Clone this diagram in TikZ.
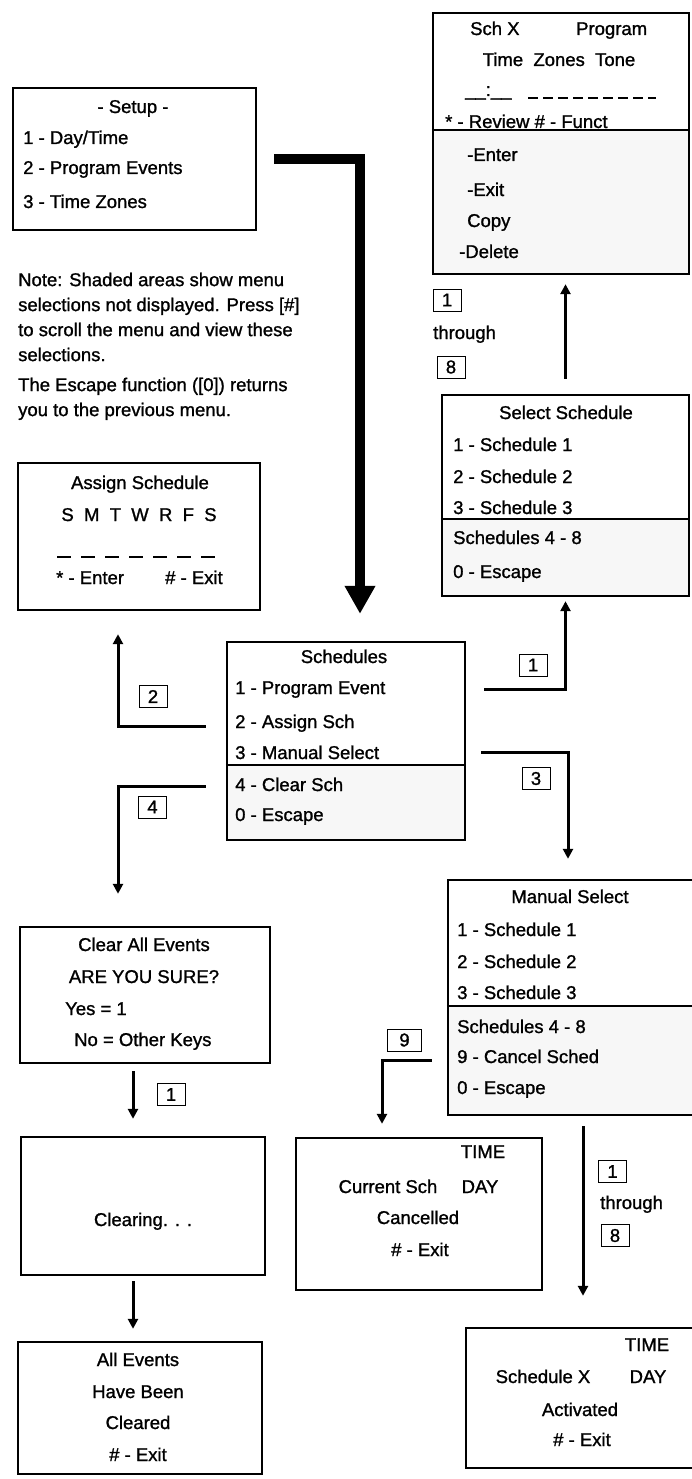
\documentclass[tikz,border=0pt]{standalone}
\usepackage{fontspec}
\setmainfont{Liberation Sans}[FakeBold=1.2]
\usetikzlibrary{arrows.meta}

\begin{document}
\begin{tikzpicture}[x=1pt,y=-1pt,
    every node/.style={font=\fontsize{18.5}{25}\selectfont},
    box/.style={draw,line width=2.4pt,inner sep=0pt},
    key/.style={draw,line width=0.9pt,minimum width=28pt,minimum height=22pt,inner sep=0pt},
    lft/.style={anchor=base west,inner sep=0pt},
    mid/.style={anchor=base,inner sep=0pt},
    arr/.style={line width=3pt,-{Triangle[width=10pt,length=10pt]}},
    big/.style={line width=10pt,-{Triangle[width=29pt,length=28pt]}},
    shade/.style={fill=black!3}]

        \useasboundingbox (0,0) rectangle (692,1479);

        \fill[shade] (433,130) rectangle (689,274);
        \fill[shade] (442,519) rectangle (689,596);
        \fill[shade] (227,765) rectangle (465,840);
        \fill[shade] (448,1006) rectangle (700,1115);

        \begin{scope}[every node/.append style={box}]
          \node[minimum width=256pt,minimum height=261pt] (schx)     at (561,143.5) {};
          \node[minimum width=247pt,minimum height=201pt] (selsch)   at (565.5,495.5) {};
          \node[minimum width=243pt,minimum height=142pt] (setup)    at (134.5,159) {};
          \node[minimum width=242pt,minimum height=147pt] (assign)   at (139,536.5) {};
          \node[minimum width=238pt,minimum height=198pt] (sched)    at (346,741) {};
          \node[minimum width=252pt,minimum height=235pt] (manual)   at (574,997.5) {};
          \node[minimum width=250pt,minimum height=136pt] (clear)    at (145,995) {};
          \node[minimum width=244pt,minimum height=138pt] (clearing) at (143,1206) {};
          \node[minimum width=244pt,minimum height=132pt] (allev)    at (140,1408) {};
          \node[minimum width=246pt,minimum height=152pt] (cursch)   at (419,1214) {};
          \node[minimum width=234pt,minimum height=140pt] (schedx)   at (583,1398) {};
        \end{scope}

        \begin{scope}[line width=2.4pt]
          \draw (schx.west |- 0,130) -- (schx.east |- 0,130);
          \draw (selsch.west |- 0,519) -- (selsch.east |- 0,519);
          \draw (sched.west |- 0,765) -- (sched.east |- 0,765);
          \draw (manual.west |- 0,1006) -- (manual.east |- 0,1006);
        \end{scope}

        \node[lft] (sx1) at (470,35)  {Sch X};
        \node[lft] (sx2) at (576,35)  {Program};
        \node[mid] (sx3) at (559,66)  {Time\ \ Zones\ \ Tone};
        \node[lft] (sx4) at (465,96)  {\_\_:\_\_};
        \draw[line width=1.2pt,dash pattern=on 10pt off 5pt] (528,98) -- (656,98);
        \node[lft] (sx5) at (445,128) {* - Review \# - Funct};
        \node[lft] (sx6) at (467,161) {-Enter};
        \node[lft] (sx7) at (467,196) {-Exit};
        \node[lft] (sx8) at (467,227) {Copy};
        \node[lft] (sx9) at (459,258) {-Delete};

        \node[mid] (ss0) at (566,419) {Select Schedule};
        \node[lft] (ss1) at (453,451) {1 - Schedule 1};
        \node[lft] (ss2) at (453,483) {2 - Schedule 2};
        \node[lft] (ss3) at (453,514) {3 - Schedule 3};
        \node[lft] (ss4) at (453,544) {Schedules 4 - 8};
        \node[lft] (ss5) at (453,578) {0 - Escape};

        \node[mid] (su0) at (133,113) {- Setup -};
        \node[lft] (su1) at (23,144)  {1 - Day/Time};
        \node[lft] (su2) at (23,174)  {2 - Program Events};
        \node[lft] (su3) at (23,208)  {3 - Time Zones};

        \node[anchor=north west,inner sep=0pt,align=left] (note1) at (18,272.5)
          {Note: Shaded areas show menu\\selections not displayed. Press [\#]\\to scroll the menu and view these\\selections.};
        \node[anchor=north west,inner sep=0pt,align=left] (note2) at (18,377.5)
          {The Escape function ([0]) returns\\you to the previous menu.};

        \node[mid] (as0) at (140,489) {Assign Schedule};
        \node[mid] (as1) at (139,521) {S\ \ M\ \ T\ \ W\ \ R\ \ F\ \ S};
        \draw[line width=1.2pt,dash pattern=on 14pt off 10pt] (57,557) -- (218,557);
        \node[lft] (as2) at (56,584)  {* - Enter};
        \node[lft] (as3) at (165,584) {\# - Exit};

        \node[mid] (s0) at (344,663) {Schedules};
        \node[lft] (s1) at (235,694) {1 - Program Event};
        \node[lft] (s2) at (235,728) {2 - Assign Sch};
        \node[lft] (s3) at (235,759) {3 - Manual Select};
        \node[lft] (s4) at (235,791) {4 - Clear Sch};
        \node[lft] (s5) at (235,821) {0 - Escape};

        \node[mid] (m0) at (570,903)  {Manual Select};
        \node[lft] (m1) at (457,936)  {1 - Schedule 1};
        \node[lft] (m2) at (457,968)  {2 - Schedule 2};
        \node[lft] (m3) at (457,999)  {3 - Schedule 3};
        \node[lft] (m4) at (457,1033) {Schedules 4 - 8};
        \node[lft] (m9) at (457,1063) {9 - Cancel Sched};
        \node[lft] (m5) at (457,1094) {0 - Escape};

        \node[mid] (ce0) at (144,951) {Clear All Events};
        \node[mid] (ce1) at (144,983) {ARE YOU SURE?};
        \node[lft] (ce2) at (65,1015) {Yes = 1};
        \node[lft] (ce3) at (74,1046) {No = Other Keys};

        \node[mid] (cl0) at (143,1226) {Clearing. . .};

        \node[mid] (ae0) at (138,1366) {All Events};
        \node[mid] (ae1) at (138,1398) {Have Been};
        \node[mid] (ae2) at (138,1429) {Cleared};
        \node[mid] (ae3) at (138,1461) {\# - Exit};

        \node[mid] (cs0) at (483,1158) {TIME};
        \node[mid] (cs1) at (388,1193) {Current Sch};
        \node[mid] (cs2) at (480,1193) {DAY};
        \node[mid] (cs3) at (418,1224) {Cancelled};
        \node[mid] (cs4) at (420,1256) {\# - Exit};

        \node[mid] (sx0) at (647,1351) {TIME};
        \node[mid] (sxa) at (543,1383) {Schedule X};
        \node[mid] (sxb) at (648,1383) {DAY};
        \node[mid] (sxc) at (580,1416) {Activated};
        \node[mid] (sxd) at (582,1446) {\# - Exit};

        \coordinate (bend) at (360,159);
        \coordinate (c2) at (118,726);
        \coordinate (c3) at (568,752);
        \coordinate (c4) at (118,786);
        \coordinate (c5) at (133,0);
        \coordinate (c9) at (382,1060);

        \draw[big,shorten <=17pt,shorten >=27pt] (setup.east) -- (bend) -- (bend |- sched.north);
        \draw[arr,shorten <=15pt,shorten >=9pt] (selsch.north) -- (selsch.north |- schx.south);
        \draw[arr,shorten <=18pt,shorten >=4pt] (sched.east |- s1) -- (selsch.south |- s1) -- (selsch.south);
        \draw[arr,shorten <=20pt,shorten >=23pt] (sched.west |- c2) -- (c2) -- (c2 |- assign.south);
        \draw[arr,shorten <=15pt,shorten >=20pt] (sched.east |- c3) -- (c3) -- (c3 |- manual.north);
        \draw[arr,shorten <=20pt,shorten >=32pt] (sched.west |- c4) -- (c4) -- (c4 |- clear.north);
        \draw[arr,shorten <=7pt,shorten >=17pt] (c5 |- clear.south) -- (c5 |- clearing.north);
        \draw[arr,shorten <=5pt,shorten >=12pt] (c5 |- clearing.south) -- (c5 |- allev.north);
        \draw[arr,shorten <=15pt,shorten >=13pt] (manual.west |- c9) -- (c9) -- (c9 |- cursch.north);
        \draw[arr,shorten <=10pt,shorten >=31pt] (manual.south -| schedx.north) -- (schedx.north);

        \begin{scope}[every node/.append style={key}]
          \node (k1a) at (447,300)    {1};
          \node (k8a) at (451,367)    {8};
          \node (k1b) at (533,665)    {1};
          \node (k2)  at (153,696.5)  {2};
          \node (k3)  at (536,778.5)  {3};
          \node (k4)  at (152.5,807)  {4};
          \node (k1c) at (171,1094.5) {1};
          \node[minimum width=34pt] (k9) at (404.5,1040) {9};
          \node (k1d) at (612.5,1171.5) {1};
          \node (k8d) at (615,1235.5) {8};
        \end{scope}
        \node[lft] (thr1) at (433,339)  {through};
        \node[lft] (thr2) at (600,1209) {through};

      \end{tikzpicture}
\end{document}
